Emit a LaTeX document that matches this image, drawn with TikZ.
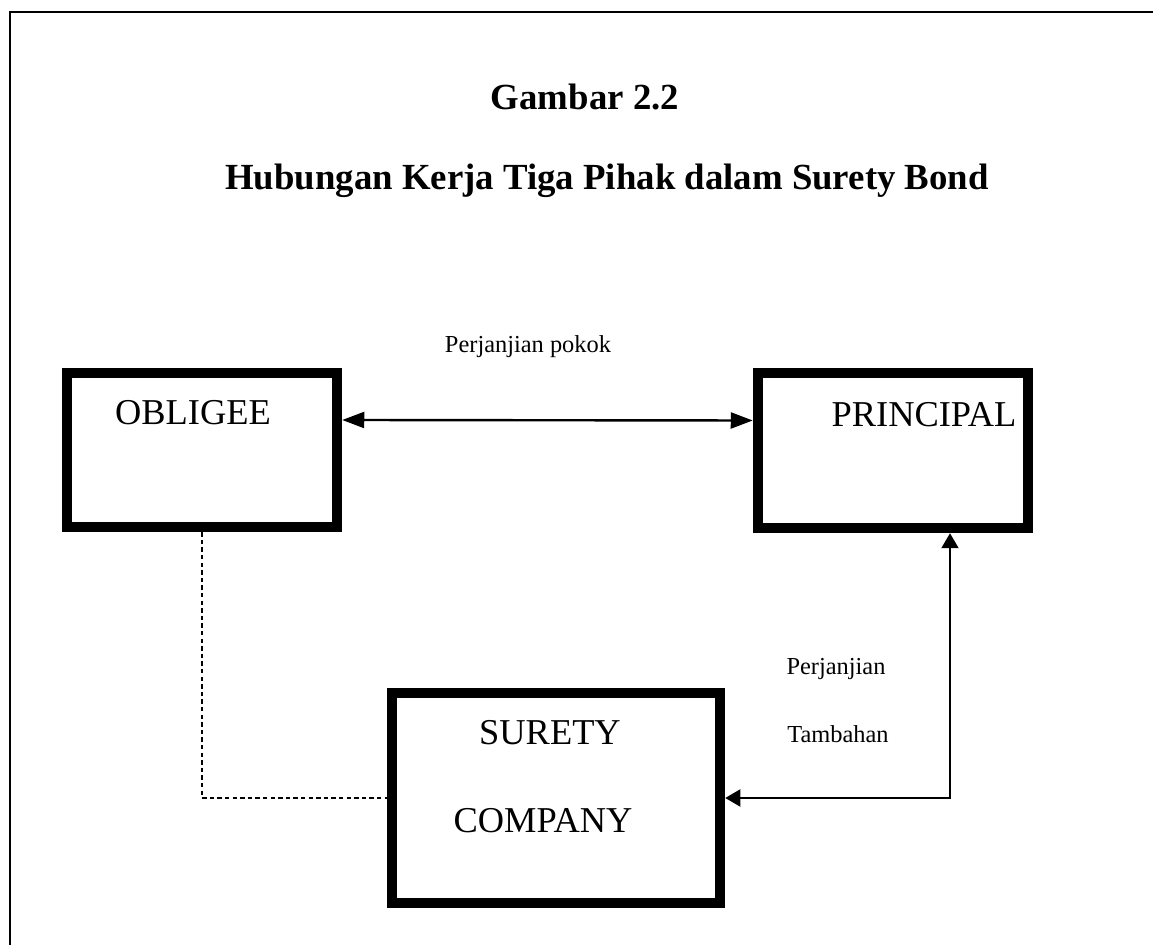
\documentclass[tikz,border=0pt]{standalone}
\usepackage{fontspec}
\setmainfont{Liberation Serif}
\usepackage{tikz}
\usetikzlibrary{arrows.meta,positioning}
\tikzset{
  sb/frame/.style={draw=black, line width=1.4pt},
  sb/box/.style={
    draw=black, fill=white, line width=5.25pt, inner sep=0pt
  },
  sb/title/.style={
    anchor=base, inner sep=0pt, font=\bfseries\fontsize{18.4}{22}\selectfont
  },
  sb/name/.style={
    anchor=base, inner sep=0pt, font=\fontsize{18.2}{22}\selectfont
  },
  sb/note/.style={
    anchor=base, inner sep=0pt, font=\fontsize{12.2}{15}\selectfont
  },
  sb/arr/.style={{Triangle[length=11pt,width=8pt]}-{Triangle[length=11pt,width=8pt]}, line width=1.2pt},
  sb/arrs/.style={{Triangle[length=7.5pt,width=8.5pt]}-{Triangle[length=7.5pt,width=8.5pt]}, line width=1pt},
  sb/dash/.style={line width=1pt, dash pattern=on 2.2pt off 1.6pt}
}
\begin{document}
\begin{tikzpicture}[x=0.5pt, y=-0.5pt]
  \useasboundingbox (0,0) rectangle (1153,945);
  % frame of the page
  \draw[sb/frame] (10,945) -- (10,12) -- (1153,12);

  % heading
  \node[sb/title] (gambar) at (585,110) {Gambar 2.2};
  \node[sb/title] (judul) at (607,190) {Hubungan Kerja Tiga Pihak dalam Surety Bond};

  % the three parties
  \node[sb/box, minimum width=135pt, minimum height=77pt] (obligee) at (202,450) {};
  \node[sb/box, minimum width=135pt, minimum height=77.5pt] (principal) at (893,450.5) {};
  \node[sb/box, minimum width=164pt, minimum height=105pt] (surety) at (556,798) {};
  \node[sb/name] (obligeetxt) at (193,425) {OBLIGEE};
  \node[sb/name] (principaltxt) at (924,427) {PRINCIPAL};
  \node[sb/name] (suretytxt) at (550,745) {SURETY};
  \node[sb/name] (companytxt) at (543,833) {COMPANY};

  % relations
  \draw[sb/arr] ([yshift=15pt]obligee.east) -- ([yshift=15pt]principal.west);
  \node[sb/note] (pokok) at (528,353) {Perjanjian pokok};
  \draw[sb/arrs] (surety.east) -| ([xshift=28.5pt]principal.south);
  \node[sb/note] (perjanjian) at (836,675) {Perjanjian};
  \node[sb/note] (tambahan) at (838,743) {Tambahan};
  \draw[sb/dash] (obligee.south) |- (surety.west);
\end{tikzpicture}
\end{document}
